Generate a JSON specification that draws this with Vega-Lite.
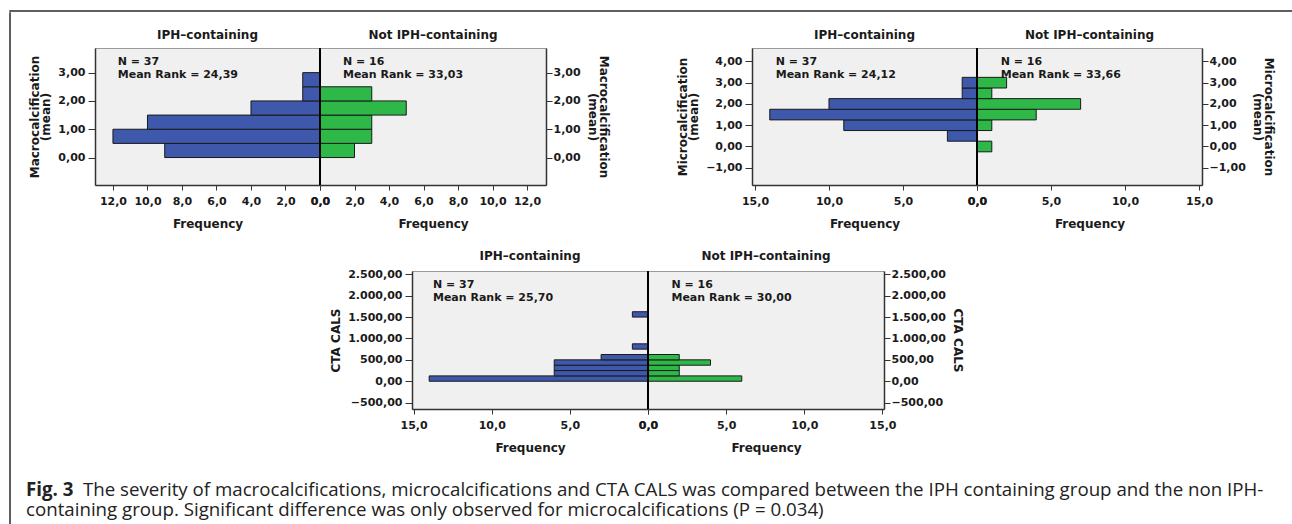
{
  "$schema": "https://vega.github.io/schema/vega-lite/v6.json",
  "padding": {"left": 9, "top": 10, "right": 0, "bottom": 0},
  "background": "white",
  "config": {
    "font": "DejaVu Sans",
    "locale": {"number": {"decimal": ",", "thousands": ".", "grouping": [3], "currency": ["", " €"]}},
    "view": {"fill": "#f0f0f0", "stroke": "#9a9a9a", "strokeWidth": 1},
    "axis": {"labelFont": "DejaVu Sans", "labelFontSize": 11, "labelFontWeight": "bold", "labelColor": "#1a1a1a", "titleFont": "DejaVu Sans", "titleFontSize": 12, "titleFontWeight": "bold", "titleColor": "#1a1a1a", "grid": false, "domainColor": "#333333", "tickColor": "#333333", "domainWidth": 1.5, "tickWidth": 1, "labelOverlap": false, "labelFlush": false, "labelBound": false, "titleLineHeight": 11.5, "tickCount": 20},
    "axisX": {"tickSize": 5, "labelPadding": 5, "titlePadding": 12},
    "axisY": {"tickSize": 6, "labelPadding": 2, "titlePadding": 5},
    "title": {"font": "DejaVu Sans", "fontSize": 12, "fontWeight": "bold", "color": "#1a1a1a", "offset": 5},
    "text": {"font": "DejaVu Sans", "fontSize": 11, "fontWeight": "bold", "color": "#1a1a1a"}
  },
  "datasets": {
    "bars": [
      {"chart": "macro", "grp": "IPH", "lo": 0, "hi": 0.5, "n": 9},
      {"chart": "macro", "grp": "IPH", "lo": 0.5, "hi": 1, "n": 12},
      {"chart": "macro", "grp": "IPH", "lo": 1, "hi": 1.5, "n": 10},
      {"chart": "macro", "grp": "IPH", "lo": 1.5, "hi": 2, "n": 4},
      {"chart": "macro", "grp": "IPH", "lo": 2, "hi": 2.5, "n": 1},
      {"chart": "macro", "grp": "IPH", "lo": 2.5, "hi": 3, "n": 1},
      {"chart": "macro", "grp": "Not", "lo": 0, "hi": 0.5, "n": 2},
      {"chart": "macro", "grp": "Not", "lo": 0.5, "hi": 1, "n": 3},
      {"chart": "macro", "grp": "Not", "lo": 1, "hi": 1.5, "n": 3},
      {"chart": "macro", "grp": "Not", "lo": 1.5, "hi": 2, "n": 5},
      {"chart": "macro", "grp": "Not", "lo": 2, "hi": 2.5, "n": 3},
      {"chart": "micro", "grp": "IPH", "lo": 0.25, "hi": 0.75, "n": 2},
      {"chart": "micro", "grp": "IPH", "lo": 0.75, "hi": 1.25, "n": 9},
      {"chart": "micro", "grp": "IPH", "lo": 1.25, "hi": 1.75, "n": 14},
      {"chart": "micro", "grp": "IPH", "lo": 1.75, "hi": 2.25, "n": 10},
      {"chart": "micro", "grp": "IPH", "lo": 2.25, "hi": 2.75, "n": 1},
      {"chart": "micro", "grp": "IPH", "lo": 2.75, "hi": 3.25, "n": 1},
      {"chart": "micro", "grp": "Not", "lo": -0.25, "hi": 0.25, "n": 1},
      {"chart": "micro", "grp": "Not", "lo": 0.75, "hi": 1.25, "n": 1},
      {"chart": "micro", "grp": "Not", "lo": 1.25, "hi": 1.75, "n": 4},
      {"chart": "micro", "grp": "Not", "lo": 1.75, "hi": 2.25, "n": 7},
      {"chart": "micro", "grp": "Not", "lo": 2.25, "hi": 2.75, "n": 1},
      {"chart": "micro", "grp": "Not", "lo": 2.75, "hi": 3.25, "n": 2},
      {"chart": "cta", "grp": "IPH", "lo": 0, "hi": 125, "n": 14},
      {"chart": "cta", "grp": "IPH", "lo": 125, "hi": 250, "n": 6},
      {"chart": "cta", "grp": "IPH", "lo": 250, "hi": 375, "n": 6},
      {"chart": "cta", "grp": "IPH", "lo": 375, "hi": 500, "n": 6},
      {"chart": "cta", "grp": "IPH", "lo": 500, "hi": 625, "n": 3},
      {"chart": "cta", "grp": "IPH", "lo": 750, "hi": 875, "n": 1},
      {"chart": "cta", "grp": "IPH", "lo": 1500, "hi": 1625, "n": 1},
      {"chart": "cta", "grp": "Not", "lo": 0, "hi": 125, "n": 6},
      {"chart": "cta", "grp": "Not", "lo": 125, "hi": 250, "n": 2},
      {"chart": "cta", "grp": "Not", "lo": 250, "hi": 375, "n": 2},
      {"chart": "cta", "grp": "Not", "lo": 375, "hi": 500, "n": 4},
      {"chart": "cta", "grp": "Not", "lo": 500, "hi": 625, "n": 2}
    ]
  },
  "spacing": 0,
  "vconcat": [
    {"width": 1283, "height": 0.01, "data": {"values": []}, "mark": "rule", "encoding": {}, "view": {"fill": null, "stroke": "#2a2a2a", "strokeWidth": 1.5}},
    {
      "spacing": 15,
      "hconcat": [
        {"width": 0.01, "height": 514, "data": {"values": []}, "mark": "rule", "encoding": {}, "view": {"fill": null, "stroke": "#2a2a2a", "strokeWidth": 1.5}},
        {
          "spacing": 13,
          "vconcat": [
            {"width": 1, "height": 1, "data": {"values": []}, "mark": "rule", "encoding": {}, "view": {"fill": null, "stroke": "transparent"}},
            {
              "spacing": 19,
              "vconcat": [
                {
                  "spacing": 64,
                  "hconcat": [
                    {
                      "spacing": 0,
                      "bounds": "flush",
                      "hconcat": [
                        {
                          "width": 225, "height": 137, "title": "IPH–containing",
                          "layer": [
                            {"data": {"name": "bars"}, "transform": [{"filter": "datum.chart == 'macro' && datum.grp == 'IPH'"}],
                             "mark": {"type": "rect", "fill": "#3E58AC", "stroke": "#1a1a1a", "strokeWidth": 1},
                             "encoding": {
                               "x": {"field": "n", "type": "quantitative", "scale": {"domain": [0, 13.04], "reverse": true, "nice": false}, "axis": {"values": [0, 2, 4, 6, 8, 10, 12], "tickCount": 20, "format": ".1f", "title": "Frequency", "labelOverlap": false}},
                               "x2": {"datum": 0},
                               "y": {"field": "lo", "type": "quantitative", "scale": {"domain": [-0.97, 3.87], "nice": false}, "axis": {"orient": "left", "values": [0, 1, 2, 3], "tickCount": 20, "format": ",.2f", "title": ["Macrocalcification", "(mean)"], "labelOverlap": false, "tickSize": 7, "labelPadding": 3}},
                               "y2": {"field": "hi"}
                             }},
                            {"data": {"values": [{}]}, "mark": {"type": "rule", "color": "#000000", "strokeWidth": 2}, "encoding": {"x": {"datum": 0}}},
                            {"data": {"values": [{}]}, "mark": {"type": "text", "align": "left", "baseline": "middle", "lineHeight": 13, "text": ["N = 37", "Mean Rank = 24,39"]}, "encoding": {"x": {"datum": 11.72}, "y": {"datum": 3.375}}}
                          ]
                        },
                        {
                          "width": 226, "height": 137, "title": "Not IPH–containing",
                          "layer": [
                            {"data": {"name": "bars"}, "transform": [{"filter": "datum.chart == 'macro' && datum.grp == 'Not'"}],
                             "mark": {"type": "rect", "fill": "#2EB848", "stroke": "#1a1a1a", "strokeWidth": 1},
                             "encoding": {
                               "x": {"field": "n", "type": "quantitative", "scale": {"domain": [0, 13.1], "nice": false}, "axis": {"values": [0, 2, 4, 6, 8, 10, 12], "tickCount": 20, "format": ".1f", "title": "Frequency", "labelOverlap": false}},
                               "x2": {"datum": 0},
                               "y": {"field": "lo", "type": "quantitative", "scale": {"domain": [-0.97, 3.87], "nice": false}, "axis": {"orient": "right", "values": [0, 1, 2, 3], "tickCount": 20, "format": ",.2f", "title": ["Macrocalcification", "(mean)"], "labelOverlap": false, "tickSize": 6, "labelPadding": 1}},
                               "y2": {"field": "hi"}
                             }},
                            {"data": {"values": [{}]}, "mark": {"type": "rule", "color": "#000000", "strokeWidth": 2}, "encoding": {"x": {"datum": 0}}},
                            {"data": {"values": [{}]}, "mark": {"type": "text", "align": "left", "baseline": "middle", "lineHeight": 13, "text": ["N = 16", "Mean Rank = 33,03"]}, "encoding": {"x": {"datum": 1.33}, "y": {"datum": 3.375}}}
                          ]
                        }
                      ]
                    },
                    {
                      "spacing": 0,
                      "bounds": "flush",
                      "hconcat": [
                        {
                          "width": 225, "height": 137, "title": "IPH–containing",
                          "layer": [
                            {"data": {"name": "bars"}, "transform": [{"filter": "datum.chart == 'micro' && datum.grp == 'IPH'"}],
                             "mark": {"type": "rect", "fill": "#3E58AC", "stroke": "#1a1a1a", "strokeWidth": 1},
                             "encoding": {
                               "x": {"field": "n", "type": "quantitative", "scale": {"domain": [0, 15.2], "reverse": true, "nice": false}, "axis": {"values": [0, 5, 10, 15], "tickCount": 20, "format": ".1f", "title": "Frequency", "labelOverlap": false}},
                               "x2": {"datum": 0},
                               "y": {"field": "lo", "type": "quantitative", "scale": {"domain": [-1.81, 4.63], "nice": false}, "axis": {"orient": "left", "values": [-1, 0, 1, 2, 3, 4], "tickCount": 20, "format": ",.2f", "title": ["Microcalcification", "(mean)"], "labelOverlap": false, "tickSize": 7, "labelPadding": 3}},
                               "y2": {"field": "hi"}
                             }},
                            {"data": {"values": [{}]}, "mark": {"type": "rule", "color": "#000000", "strokeWidth": 2}, "encoding": {"x": {"datum": 0}}},
                            {"data": {"values": [{}]}, "mark": {"type": "text", "align": "left", "baseline": "middle", "lineHeight": 13, "text": ["N = 37", "Mean Rank = 24,12"]}, "encoding": {"x": {"datum": 13.6}, "y": {"datum": 3.972}}}
                          ]
                        },
                        {
                          "width": 225, "height": 137, "title": "Not IPH–containing",
                          "layer": [
                            {"data": {"name": "bars"}, "transform": [{"filter": "datum.chart == 'micro' && datum.grp == 'Not'"}],
                             "mark": {"type": "rect", "fill": "#2EB848", "stroke": "#1a1a1a", "strokeWidth": 1},
                             "encoding": {
                               "x": {"field": "n", "type": "quantitative", "scale": {"domain": [0, 15.2], "nice": false}, "axis": {"values": [0, 5, 10, 15], "tickCount": 20, "format": ".1f", "title": "Frequency", "labelOverlap": false}},
                               "x2": {"datum": 0},
                               "y": {"field": "lo", "type": "quantitative", "scale": {"domain": [-1.81, 4.63], "nice": false}, "axis": {"orient": "right", "values": [-1, 0, 1, 2, 3, 4], "tickCount": 20, "format": ",.2f", "title": ["Microcalcification", "(mean)"], "labelOverlap": false, "tickSize": 6, "labelPadding": 1}},
                               "y2": {"field": "hi"}
                             }},
                            {"data": {"values": [{}]}, "mark": {"type": "rule", "color": "#000000", "strokeWidth": 2}, "encoding": {"x": {"datum": 0}}},
                            {"data": {"values": [{}]}, "mark": {"type": "text", "align": "left", "baseline": "middle", "lineHeight": 13, "text": ["N = 16", "Mean Rank = 33,66"]}, "encoding": {"x": {"datum": 1.6}, "y": {"datum": 3.972}}}
                          ]
                        }
                      ]
                    }
                  ]
                },
                {
                  "spacing": 0,
                  "hconcat": [
                    {"width": 233, "height": 1, "data": {"values": []}, "mark": "rule", "encoding": {}, "view": {"fill": null, "stroke": "transparent"}},
                    {
                      "spacing": 0,
                      "bounds": "flush",
                      "hconcat": [
                        {
                          "width": 236, "height": 138, "title": "IPH–containing",
                          "layer": [
                            {"data": {"name": "bars"}, "transform": [{"filter": "datum.chart == 'cta' && datum.grp == 'IPH'"}],
                             "mark": {"type": "rect", "fill": "#3E58AC", "stroke": "#1a1a1a", "strokeWidth": 1},
                             "encoding": {
                               "x": {"field": "n", "type": "quantitative", "scale": {"domain": [0, 15.1], "reverse": true, "nice": false}, "axis": {"values": [0, 5, 10, 15], "tickCount": 20, "format": ".1f", "title": "Frequency", "labelOverlap": false}},
                               "x2": {"datum": 0},
                               "y": {"field": "lo", "type": "quantitative", "scale": {"domain": [-649, 2577], "nice": false}, "axis": {"orient": "left", "values": [-500, 0, 500, 1000, 1500, 2000, 2500], "tickCount": 20, "format": ",.2f", "title": "CTA CALS", "labelOverlap": false, "tickSize": 7, "labelPadding": 3}},
                               "y2": {"field": "hi"}
                             }},
                            {"data": {"values": [{}]}, "mark": {"type": "rule", "color": "#000000", "strokeWidth": 2}, "encoding": {"x": {"datum": 0}}},
                            {"data": {"values": [{}]}, "mark": {"type": "text", "align": "left", "baseline": "middle", "lineHeight": 13, "text": ["N = 37", "Mean Rank = 25,70"]}, "encoding": {"x": {"datum": 13.76}, "y": {"datum": 2243}}}
                          ]
                        },
                        {
                          "width": 236, "height": 138, "title": "Not IPH–containing",
                          "layer": [
                            {"data": {"name": "bars"}, "transform": [{"filter": "datum.chart == 'cta' && datum.grp == 'Not'"}],
                             "mark": {"type": "rect", "fill": "#2EB848", "stroke": "#1a1a1a", "strokeWidth": 1},
                             "encoding": {
                               "x": {"field": "n", "type": "quantitative", "scale": {"domain": [0, 15.1], "nice": false}, "axis": {"values": [0, 5, 10, 15], "tickCount": 20, "format": ".1f", "title": "Frequency", "labelOverlap": false}},
                               "x2": {"datum": 0},
                               "y": {"field": "lo", "type": "quantitative", "scale": {"domain": [-649, 2577], "nice": false}, "axis": {"orient": "right", "values": [-500, 0, 500, 1000, 1500, 2000, 2500], "tickCount": 20, "format": ",.2f", "title": "CTA CALS", "labelOverlap": false, "tickSize": 6, "labelPadding": 1}},
                               "y2": {"field": "hi"}
                             }},
                            {"data": {"values": [{}]}, "mark": {"type": "rule", "color": "#000000", "strokeWidth": 2}, "encoding": {"x": {"datum": 0}}},
                            {"data": {"values": [{}]}, "mark": {"type": "text", "align": "left", "baseline": "middle", "lineHeight": 13, "text": ["N = 16", "Mean Rank = 30,00"]}, "encoding": {"x": {"datum": 1.5}, "y": {"datum": 2243}}}
                          ]
                        }
                      ]
                    }
                  ]
                },
                {
                  "width": 1100, "height": 40,
                  "view": {"fill": null, "stroke": null},
                  "data": {"values": [{}]},
                  "layer": [
                    {"mark": {"type": "text", "text": "Fig. 3", "font": "Open Sans", "fontWeight": "bold", "fontSize": 18.7, "align": "left", "baseline": "middle", "dx": -69, "color": "#222222"},
                     "encoding": {"x": {"datum": 0, "scale": {"domain": [0, 1]}, "axis": null}, "y": {"datum": 0.85, "scale": {"domain": [0, 2], "reverse": true}, "axis": null}}},
                    {"mark": {"type": "text", "text": "The severity of macrocalcifications, microcalcifications and CTA CALS was compared between the IPH containing group and the non IPH-", "font": "Open Sans", "fontWeight": "normal", "fontSize": 18.7, "align": "left", "baseline": "middle", "dx": -12, "color": "#222222"},
                     "encoding": {"x": {"datum": 0}, "y": {"datum": 0.85}}},
                    {"mark": {"type": "text", "text": "containing group. Significant difference was only observed for microcalcifications (P = 0.034)", "font": "Open Sans", "fontWeight": "normal", "fontSize": 18.7, "align": "left", "baseline": "middle", "dx": -69, "color": "#222222"},
                     "encoding": {"x": {"datum": 0}, "y": {"datum": 1.85}}}
                  ]
                }
              ]
            }
          ]
        }
      ]
    }
  ]
}
